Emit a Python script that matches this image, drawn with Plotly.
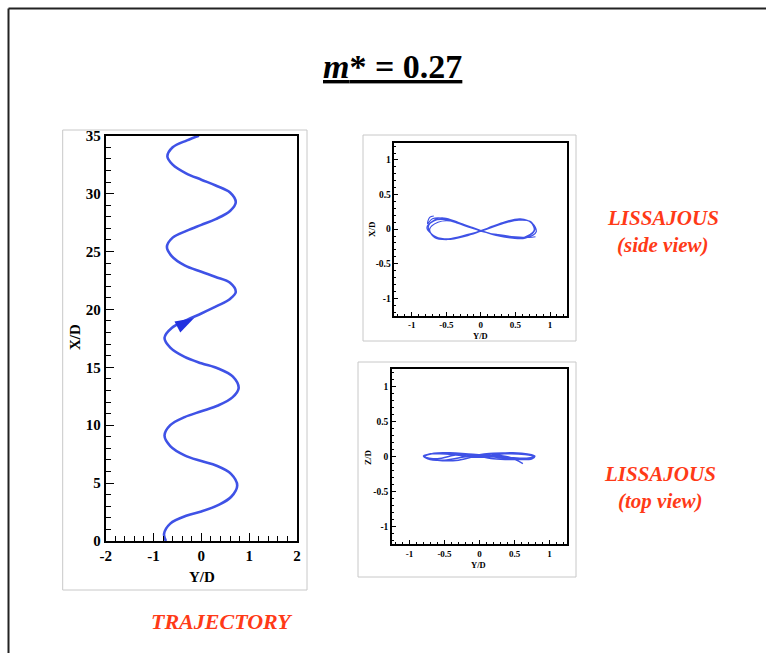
import plotly.graph_objects as go

W, H = 766, 653

# ---------------- data ----------------
# Trajectory: lateral position Y/D (horizontal) vs streamwise X/D (vertical)
traj_y = [-0.74, -0.78, -0.65, -0.30, 0.00, 0.35, 0.62, 0.75, 0.62, 0.32, 0.00, -0.35, -0.65, -0.77,
          -0.65, -0.35, 0.00, 0.35, 0.65, 0.78, 0.66, 0.35, 0.00, -0.35, -0.65, -0.77, -0.62, -0.30,
          0.00, 0.33, 0.60, 0.72, 0.60, 0.30, 0.00, -0.35, -0.62, -0.72, -0.60, -0.30, 0.00, 0.30,
          0.60, 0.72, 0.60, 0.30, 0.00, -0.32, -0.60, -0.71, -0.60, -0.30, -0.05]
traj_x = [0.0, 0.6, 1.5, 2.2, 2.55, 3.1, 3.8, 4.8, 5.8, 6.5, 6.9, 7.4, 8.2, 9.1,
          10.0, 10.7, 11.2, 11.7, 12.4, 13.2, 14.2, 14.9, 15.35, 15.9, 16.7, 17.55, 18.4, 19.1,
          19.65, 20.3, 20.9, 21.5, 22.3, 22.8, 23.25, 23.8, 24.6, 25.4, 26.2, 26.8, 27.3, 27.8,
          28.5, 29.25, 30.1, 30.7, 31.2, 31.75, 32.5, 33.2, 34.0, 34.6, 35.0]
arrow_y, arrow_x = [-0.15], [19.25]

# Lissajous side view (Y/D vs X/D)
side_y = [-0.68, -0.74, -0.77, -0.70, -0.56, -0.36, -0.16, 0.00, 0.20, 0.44, 0.62, 0.77, 0.72, 0.55,
          0.35, 0.15, 0.00, -0.20, -0.45, -0.65, -0.78, -0.68, -0.55, -0.35, -0.15, 0.02, 0.22, 0.46,
          0.64, 0.80, 0.74, 0.57, 0.36, 0.16, 0.01, -0.20, -0.47, -0.66, -0.76, -0.66, -0.53, -0.33,
          -0.14, 0.03, 0.23, 0.47, 0.66, 0.78, 0.72, 0.55, 0.35, 0.15, 0.00, -0.22, -0.48, -0.67,
          -0.74, -0.62, -0.45, -0.25, 0.00, 0.25, 0.50, 0.70, 0.79]
side_x = [0.19, 0.17, 0.08, 0.15, 0.16, 0.10, 0.03, -0.02, -0.08, -0.12, -0.12, -0.02, 0.10, 0.14,
          0.10, 0.03, -0.02, -0.09, -0.14, -0.11, 0.02, 0.12, 0.14, 0.09, 0.02, -0.03, -0.09, -0.13,
          -0.13, -0.04, 0.09, 0.15, 0.11, 0.04, -0.02, -0.08, -0.14, -0.12, 0.03, 0.14, 0.16, 0.10,
          0.03, -0.03, -0.09, -0.12, -0.11, -0.01, 0.11, 0.13, 0.09, 0.02, -0.03, -0.10, -0.15,
          -0.12, 0.00, 0.10, 0.12, 0.07, -0.03, -0.08, -0.11, -0.12, -0.11]

# Lissajous top view (Y/D vs Z/D)
top_y = [-0.70, -0.40, 0.00, 0.40, 0.70, 0.78, 0.60, 0.20, -0.20, -0.50, -0.74, -0.80, -0.60,
         -0.20, 0.20, 0.50, 0.75, 0.79, 0.60, 0.30, 0.00, -0.30, -0.60, -0.78, -0.70, -0.40,
         0.00, 0.35, 0.65, 0.78, 0.70, 0.40, 0.05, -0.30, -0.60, -0.79, -0.65, -0.30, 0.05, 0.40, 0.62]
top_z = [0.04, 0.05, 0.02, -0.01, -0.02, 0.01, 0.04, 0.05, 0.00, -0.05, -0.03, 0.01, 0.05,
         0.04, -0.03, -0.04, -0.03, 0.01, 0.05, 0.05, 0.02, -0.05, -0.05, 0.00, 0.04, 0.03,
         -0.01, 0.04, 0.03, 0.00, -0.03, -0.02, 0.01, 0.03, -0.03, 0.00, 0.05, 0.05, 0.02, 0.00, -0.10]

traj_ticks = [-2, -1, 0, 1, 2]
liss_ticks = [-1, -0.5, 0, 0.5, 1]
liss_ticklabels = ["-1", "-0.5", "0", "0.5", "1"]

# ---------------- styling helpers ----------------
SERIF = "Liberation Serif, Times New Roman, serif"
BLUE = "#3f52e6"
RED = "#ff3a17"


def px_x(v):
    return v / W


def px_y(v):
    return 1 - v / H


fig = go.Figure()

fig.add_trace(go.Scatter(x=traj_y, y=traj_x, mode="lines", xaxis="x", yaxis="y",
                         line=dict(color=BLUE, width=2.6, shape="spline", smoothing=1.0),
                         hoverinfo="skip", showlegend=False))
fig.add_trace(go.Scatter(x=arrow_y, y=arrow_x, mode="markers", xaxis="x", yaxis="y",
                         marker=dict(symbol="arrow", size=20, angle=62, color="#2231e0",
                                     line=dict(width=0)),
                         hoverinfo="skip", showlegend=False))
fig.add_trace(go.Scatter(x=side_y, y=side_x, mode="lines", xaxis="x2", yaxis="y2",
                         line=dict(color=BLUE, width=1.2, shape="spline", smoothing=1.0),
                         hoverinfo="skip", showlegend=False))
fig.add_trace(go.Scatter(x=top_y, y=top_z, mode="lines", xaxis="x3", yaxis="y3",
                         line=dict(color=BLUE, width=1.5, shape="spline", smoothing=1.0),
                         hoverinfo="skip", showlegend=False))


def axis(domain, rng, tickvals, ticktext, dtick_minor, fsize, lw, tlen, mlen, anchor):
    return dict(domain=domain, range=rng, tickmode="array", tickvals=tickvals, ticktext=ticktext,
                ticks="inside", ticklen=tlen, tickwidth=1, tickcolor="black",
                showline=True, linecolor="black", linewidth=lw, mirror=True,
                showgrid=False, zeroline=False, automargin=False, anchor=anchor,
                tickfont=dict(family=SERIF, size=fsize, color="black", weight="bold"),
                minor=dict(dtick=dtick_minor, ticks="inside", ticklen=mlen, tickcolor="black",
                           tickwidth=1, showgrid=False),
                fixedrange=True)


fig.update_layout(
    width=W, height=H, autosize=False,
    margin=dict(l=0, r=0, t=0, b=0, pad=0),
    paper_bgcolor="white", plot_bgcolor="white",
    xaxis=axis([px_x(105.7), px_x(297)], [-2, 2], traj_ticks, [str(v) for v in traj_ticks],
               0.2, 15, 2, 8, 5, "y"),
    yaxis=axis([px_y(541), px_y(135.7)], [0, 35], list(range(0, 36, 5)),
               [str(v) for v in range(0, 36, 5)], 1, 15, 2, 8, 5, "x"),
    xaxis2=axis([px_x(394.4), px_x(567.3)], [-1.25, 1.25], liss_ticks, liss_ticklabels,
                0.1, 9, 1.5, 4, 2, "y2"),
    yaxis2=axis([px_y(315.6), px_y(142.7)], [-1.25, 1.25], liss_ticks, liss_ticklabels,
                0.1, 9.5, 1.5, 4, 2, "x2"),
    xaxis3=axis([px_x(392), px_x(567)], [-1.25, 1.25], liss_ticks, liss_ticklabels,
                0.1, 9, 1.5, 4, 2, "y3"),
    yaxis3=axis([px_y(544), px_y(369.3)], [-1.25, 1.25], liss_ticks, liss_ticklabels,
                0.1, 9.5, 1.5, 4, 2, "x3"),
)

shapes = []
# outer page frame (top and left edges)
shapes.append(dict(type="line", xref="paper", yref="paper", x0=px_x(8.5), x1=1.0,
                   y0=px_y(8.5), y1=px_y(8.5), line=dict(color="#222222", width=2)))
shapes.append(dict(type="line", xref="paper", yref="paper", x0=px_x(8.5), x1=px_x(8.5),
                   y0=px_y(8.5), y1=0.0, line=dict(color="#222222", width=2)))
# light grey picture frames
for (x0, x1, y0, y1) in [(62.7, 307, 130, 590), (363, 576, 135, 341), (358, 576, 362, 577)]:
    shapes.append(dict(type="rect", xref="paper", yref="paper", x0=px_x(x0), x1=px_x(x1),
                       y0=px_y(y1), y1=px_y(y0), line=dict(color="#c8c8c8", width=1),
                       layer="below"))
fig.update_layout(shapes=shapes)

ann = []


def txt(text, x, y, size, color="black", angle=0):
    ann.append(dict(text=text, x=px_x(x), y=px_y(y), xref="paper", yref="paper",
                    showarrow=False, xanchor="center", yanchor="middle", textangle=angle,
                    font=dict(family=SERIF, size=size, color=color)))


txt("<b><u><i>m</i>* = 0.27</u></b>", 393, 66, 34)
txt("<b><i>TRAJECTORY</i></b>", 222, 621, 22, RED)
txt("<b><i>LISSAJOUS</i></b>", 663, 218, 21, RED)
txt("<b><i>(side view)</i></b>", 663, 245, 21, RED)
txt("<b><i>LISSAJOUS</i></b>", 660, 474, 21, RED)
txt("<b><i>(top view)</i></b>", 660, 501, 21, RED)
# axis titles
txt("<b>Y/D</b>", 202, 577, 15)
txt("<b>X/D</b>", 75, 337, 15, angle=-90)
txt("<b>Y/D</b>", 480, 335.5, 8.5)
txt("<b>X/D</b>", 372, 229, 9, angle=-90)
txt("<b>Y/D</b>", 479, 565, 8.5)
txt("<b>Z/D</b>", 368, 457, 9, angle=-90)
fig.update_layout(annotations=ann)

fig.write_html("out.html")
